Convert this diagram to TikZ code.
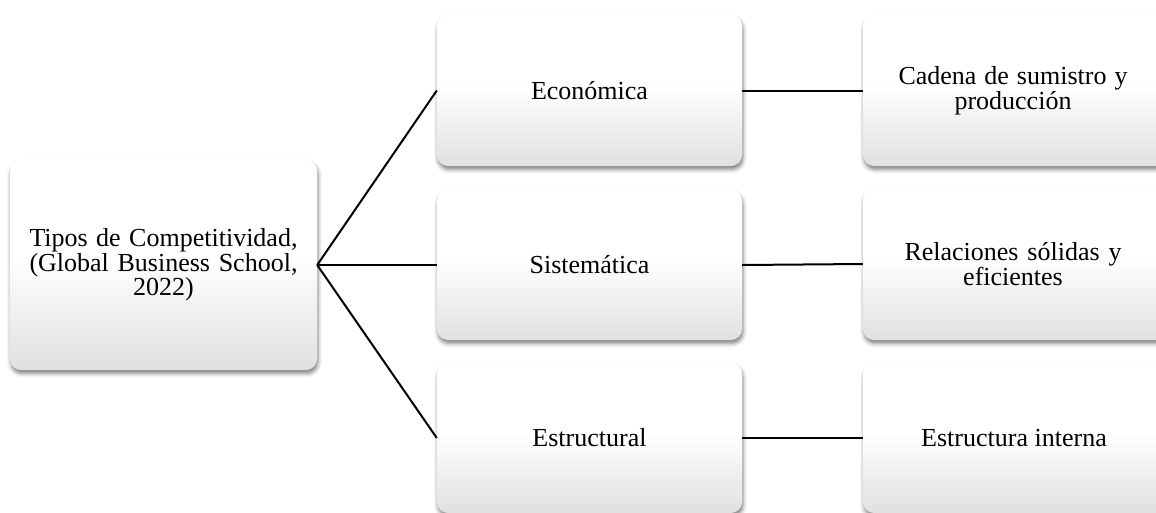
\documentclass[tikz,border=0pt]{standalone}
\usepackage{fontspec}
\setmainfont{Liberation Serif}
\usetikzlibrary{shadows.blur}
\pgfdeclareverticalshading{boxshade}{100bp}{color(0bp)=(black!12); color(25bp)=(black!12); color(52bp)=(white); color(100bp)=(white)}
\tikzset{
  box/.style={rounded corners=11pt, shading=boxshade, minimum width=305pt, minimum height=151pt,
    inner sep=0pt, align=center, font=\fontsize{26}{22.5}\selectfont,
    blur shadow={shadow xshift=1pt, shadow yshift=-3.5pt, shadow blur radius=4pt, shadow opacity=50}},
  txt/.style={inner sep=0pt, align=center, font=\fontsize{26}{22.5}\selectfont},
  link/.style={line width=2pt, black}
}
\begin{document}
\begin{tikzpicture}[x=1pt,y=-1pt]
\useasboundingbox (0,0) rectangle (1156,512);
\clip (0,0) rectangle (1156,512);
\node[box, minimum width=307pt, minimum height=210pt] (tipos) at (163.5,265)
  {\makebox[268pt][s]{Tipos de Competitividad,}\\\makebox[268pt][s]{(Global Business School,}\\2022)};
\node[box] (eco) at (589.5,90.5) {Económica};
\node[box, minimum height=150pt] (sis) at (589.5,265) {Sistemática};
\node[box, minimum height=150pt] (est) at (589.5,438) {Estructural};
\node[box, minimum width=330pt] (cad) at (1028,90.5) {};
\node[txt] (cadt) at (1013,90.5) {\makebox[229pt][s]{Cadena de sumistro y}\\producción};
\node[box, minimum width=330pt, minimum height=152pt] (rel) at (1028,264) {};
\node[txt] (relt) at (1013,264) {\makebox[217pt][s]{Relaciones sólidas y}\\eficientes};
\node[box, minimum width=330pt, minimum height=150pt] (int) at (1028,438) {};
\node[txt] (intt) at (1014,438) {Estructura interna};
\draw[link] (tipos.east) -- (eco.west);
\draw[link] (tipos.east) -- (sis.west);
\draw[link] (tipos.east) -- (est.west);
\draw[link] (eco.east) -- (cad.west);
\draw[link] (sis.east) -- (rel.west);
\draw[link] (est.east) -- (int.west);
\end{tikzpicture}
\end{document}
